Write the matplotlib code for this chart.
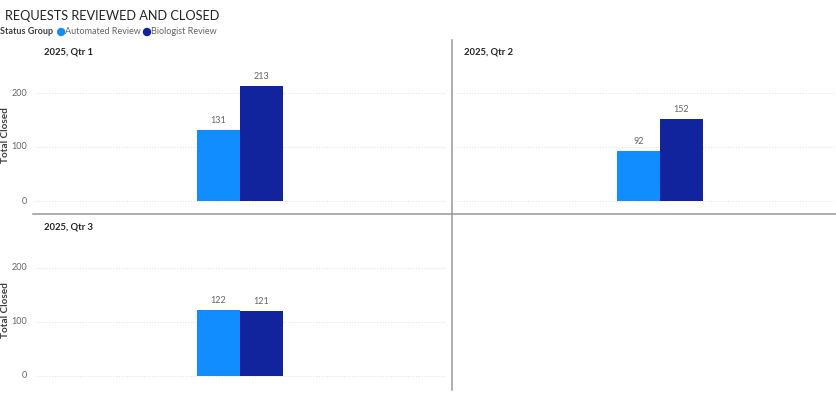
import numpy as np
import matplotlib
matplotlib.use("Agg")
import matplotlib.pyplot as plt

plt.rcParams['font.family'] = ['Lato', 'DejaVu Sans']

quarters = ["2025, Qtr 1", "2025, Qtr 2", "2025, Qtr 3"]
series = ["Automated Review", "Biologist Review"]
automated = [131, 92, 122]
biologist = [213, 152, 121]
yticks = [0, 100, 200]

colors = ["#118DFF", "#12239E"]
W, H = 836, 394
fig = plt.figure(figsize=(W / 100, H / 100), dpi=100)


def fx(x):
    return x / W


def fy(y):
    return 1 - y / H


# panel boxes in pixels: left, right, y of value 0, y of value 200
panels = [(35, 445, 201, 93), (455, 865, 201, 93), (35, 445, 376, 268)]
ylo, yhi = -20, 240

for i, (l, r, y0, y200) in enumerate(panels):
    scale = (y0 - y200) / 200.0
    bot = y0 - ylo * scale
    top = y0 - yhi * scale
    ax = fig.add_axes([fx(l), fy(bot), (r - l) / W, (bot - top) / H])
    ax.set_xlim(-0.5, 0.5)
    ax.set_ylim(ylo, yhi)
    w = 43.0 / (r - l)
    vals = [automated[i], biologist[i]]
    for k in range(2):
        xpos = (k - 0.5) * w
        ax.bar(xpos, vals[k], width=w, color=colors[k], zorder=3)
        ax.text(xpos, vals[k] + 9, str(vals[k]), ha='center', va='bottom',
                fontsize=6.5, color='#666666')
    for t in yticks:
        ax.axhline(t, color='#e4e4e4', lw=0.8, ls=(0, (1, 1.5)), zorder=1)
    ax.set_xticks([])
    ax.set_yticks([])
    for s in ax.spines.values():
        s.set_visible(False)
    ax.patch.set_alpha(0)
    # panel title
    fig.text(fx(l + 9), fy(y200 - 41), quarters[i], fontsize=6.8, color='#252423',
             fontweight='bold', va='center', ha='left')
    if l < 100:
        for t in yticks:
            fig.text(fx(27), fy(y0 - t * scale), str(t), fontsize=6.5, color='#666666',
                     ha='right', va='center')
        fig.text(fx(6), fy(y0 - 122 * scale), "Total Closed", rotation=90, fontsize=7.2,
                 color='#404040', fontweight='bold', ha='center', va='center')

# dividers
fig.add_artist(plt.Line2D([fx(33), fx(836)], [fy(214), fy(214)], color='#999999', lw=1.1))
fig.add_artist(plt.Line2D([fx(452), fx(452)], [fy(40), fy(390)], color='#999999', lw=1.1))

# title and legend
fig.text(fx(5), fy(16), "REQUESTS REVIEWED AND CLOSED", fontsize=9.2, color='#252423',
         ha='left', va='center')
t = fig.text(fx(0), fy(32), "Status Group", fontsize=6.5, color='#404040', fontweight='bold',
             ha='left', va='center')
renderer = fig.canvas.get_renderer()
cx = t.get_window_extent(renderer).x1 + 8
for k in range(2):
    fig.add_artist(matplotlib.patches.Ellipse((fx(cx), fy(32)), 7 / W, 7 / H,
                                              color=colors[k], transform=fig.transFigure))
    lt = fig.text(fx(cx + 4), fy(32), series[k], fontsize=6.5, color='#666666',
                  ha='left', va='center')
    cx = lt.get_window_extent(renderer).x1 + 6

fig.savefig("out.png", dpi=100)
